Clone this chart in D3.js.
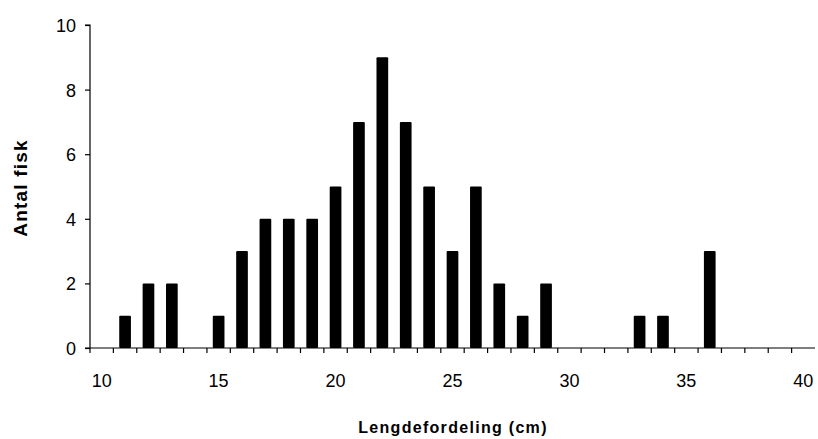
<!DOCTYPE html>
<html>
<head>
<meta charset="utf-8">
<script src="https://cdn.jsdelivr.net/npm/d3@7"></script>
<style>
  body { margin: 0; background: #fff; }
  text { font-family: "Liberation Sans", Arial, sans-serif; fill: #000; }
</style>
</head>
<body>
<div id="chart"></div>
<script>

// Categories on the x axis (cm), one band each
var lengths = d3.range( 10, 41 );

// Measured fish, by length
var barLengths = [ 11, 12, 13, 15, 16, 17, 18, 19, 20, 21, 22, 23, 24, 25, 26, 27, 28, 29, 33, 34, 36 ];
var barCounts  = [ 1, 2, 2, 1, 3, 4, 4, 4, 5, 7, 9, 7, 5, 3, 5, 2, 1, 2, 1, 1, 3 ];

var xLabels = [ 10, 15, 20, 25, 30, 35, 40 ];
var yTicks = [ 0, 2, 4, 6, 8, 10 ];

function drawChart () {

  var width = 818, height = 439;
  var margin = { top: 25, right: 3, bottom: 91, left: 90 };

  var svg = d3.select( "#chart" )
    .append( "svg" )
    .attr( "width", width )
    .attr( "height", height );

  var x = d3.scaleBand()
    .domain( lengths )
    .range( [ margin.left, width - margin.right ] )
    .paddingInner( 0.5 )
    .paddingOuter( 0.25 );

  var y = d3.scaleLinear()
    .domain( [ 0, 10 ] )
    .range( [ height - margin.bottom, margin.top ] );

  var step = x.step();
  var x0 = x.range()[ 0 ];

  // bars
  svg.append( "g" )
    .selectAll( "rect" )
      .data( barLengths )
      .enter()
      .append( "rect" )
      .attr( "x", d => x( d ) )
      .attr( "width", x.bandwidth() )
      .attr( "y", ( d, i ) => y( barCounts[ i ] ) )
      .attr( "height", ( d, i ) => y( 0 ) - y( barCounts[ i ] ) )
      .attr( "rx", 1 )
      .attr( "fill", "#000" );

  // y axis
  var yAxis = svg.append( "g" )
    .attr( "transform", "translate(" + x0 + ",0)" )
    .call( d3.axisLeft( y ).tickValues( yTicks ).tickSize( 5 ).tickPadding( 9 ) );

  yAxis.select( ".domain" ).attr( "d", "M-5," + y( 10 ) + "H0V" + y( 0 ) );
  yAxis.selectAll( "line, path" ).attr( "stroke", "#000" ).attr( "stroke-width", 1.2 );
  yAxis.selectAll( "text" )
    .style( "font-size", "18px" )
    .attr( "dy", "0.36em" );

  // x axis: ticks sit between categories, labels every fifth
  var xAxis = svg.append( "g" )
    .attr( "transform", "translate(0," + y( 0 ) + ")" );

  xAxis.append( "line" )
    .attr( "x1", x0 - 5 )
    .attr( "x2", x.range()[ 1 ] )
    .attr( "stroke", "#000" )
    .attr( "stroke-width", 1.2 );

  xAxis.selectAll( ".tick" )
    .data( lengths )
    .enter()
    .append( "line" )
    .attr( "class", "tick" )
    .attr( "x1", d => x( d ) - step * x.paddingInner() / 2 )
    .attr( "x2", d => x( d ) - step * x.paddingInner() / 2 )
    .attr( "y1", 0 )
    .attr( "y2", 5 )
    .attr( "stroke", "#000" )
    .attr( "stroke-width", 1.2 );

  xAxis.selectAll( ".label" )
    .data( xLabels )
    .enter()
    .append( "text" )
    .attr( "class", "label" )
    .attr( "x", d => x( d ) + x.bandwidth() / 2 )
    .attr( "y", 39 )
    .attr( "text-anchor", "middle" )
    .style( "font-size", "18px" )
    .text( d => d );

  // axis titles
  svg.append( "text" )
    .attr( "x", 453 )
    .attr( "y", 433 )
    .attr( "text-anchor", "middle" )
    .style( "font-size", "16px" )
    .style( "font-weight", "bold" )
    .style( "letter-spacing", "1.3px" )
    .text( "Lengdefordeling (cm)" );

  svg.append( "text" )
    .attr( "transform", "translate(27,188) rotate(-90)" )
    .attr( "text-anchor", "middle" )
    .style( "font-size", "19px" )
    .style( "font-weight", "bold" )
    .style( "letter-spacing", "1.2px" )
    .text( "Antal fisk" );

}

drawChart();

</script>
</body>
</html>
